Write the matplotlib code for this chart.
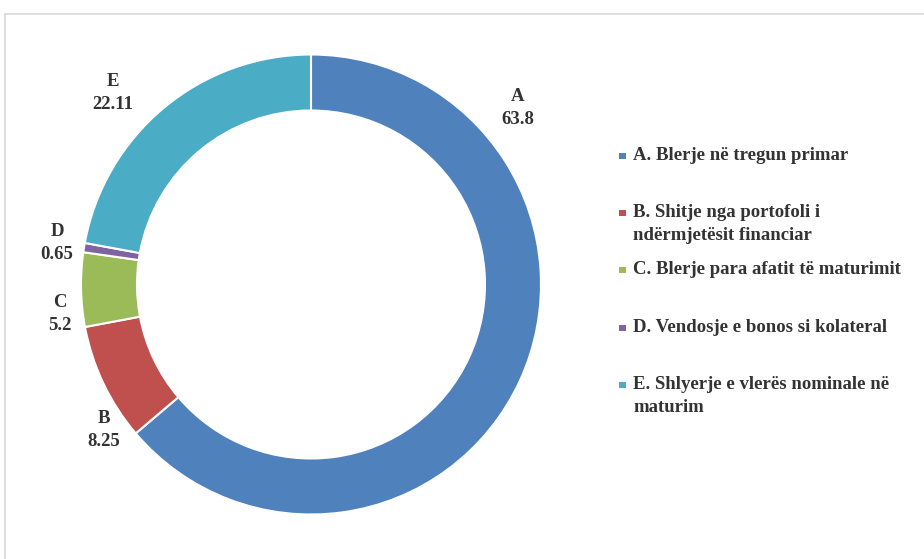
import matplotlib.pyplot as plt
from matplotlib.patches import Rectangle

W, H = 924, 559

# data
letters = ["A", "B", "C", "D", "E"]
values = [63.8, 8.25, 5.2, 0.65, 22.11]
value_text = ["63.8", "8.25", "5.2", "0.65", "22.11"]
legend_labels = [
    "A. Blerje në tregun primar",
    "B. Shitje nga portofoli i\nndërmjetësit financiar",
    "C. Blerje para afatit të maturimit",
    "D. Vendosje e bonos si kolateral",
    "E. Shlyerje e vlerës nominale në\nmaturim",
]
colors = ["#4F81BD", "#C0504D", "#9BBB59", "#8064A2", "#4BACC6"]

# layout (pixels, y measured from top)
centre = (311, 284.5)
radius = 230
ring = 56
label_pos = [(518, 108), (104, 430), (60, 314), (57, 243), (113, 93)]
legend_x = 622
legend_y = [156, 213, 270, 328, 385]   # first text line of each entry
text_col = "#333333"
font = ["Liberation Serif", "DejaVu Serif"]
fs = 13.5

fig = plt.figure(figsize=(W / 100, H / 100), dpi=100)
ax = fig.add_axes([0, 0, 1, 1])

ax.pie(values, colors=colors, startangle=90, counterclock=False,
       radius=radius, center=(centre[0], H - centre[1]),
       wedgeprops=dict(width=ring, edgecolor="white", linewidth=1.5))

ax.set_xlim(0, W)
ax.set_ylim(0, H)
ax.set_aspect("equal")
ax.axis("off")

# data labels
for (x, y), let, val in zip(label_pos, letters, value_text):
    ax.text(x, H - y, f"{let}\n{val}", ha="center", va="center",
            fontsize=fs, fontweight="bold", color=text_col,
            family=font, linespacing=1.5)

# legend, drawn by hand to keep the uneven spacing
for y, lab, c in zip(legend_y, legend_labels, colors):
    ax.add_patch(Rectangle((legend_x - 3, H - y - 3), 6.5, 6.5,
                           facecolor=c, edgecolor="none"))
    ax.text(legend_x + 11, H - y + 9, lab, ha="left", va="top",
            fontsize=fs, fontweight="bold", color=text_col, family=font,
            linespacing=1.45)

# chart area border (top and left edges visible)
ax.add_patch(Rectangle((5, -20), W + 40, H - 14 + 20, facecolor="none",
                       edgecolor="#d9d9d9", linewidth=1.2, clip_on=False))

fig.savefig("out.png", dpi=100)
